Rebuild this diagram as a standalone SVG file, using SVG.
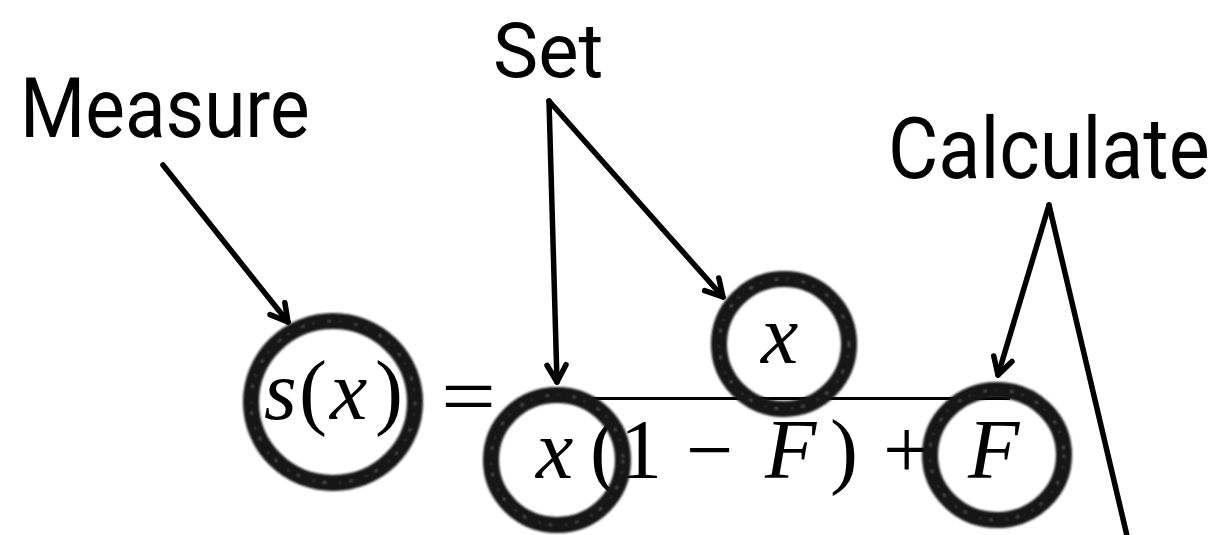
<svg xmlns="http://www.w3.org/2000/svg" width="1215" height="535" viewBox="0 0 1215 535">
<style>
.lbl{font-family:Roboto,"Open Sans",sans-serif;fill:#000}
.m{font-family:"Liberation Serif","Times New Roman",serif;font-size:84px;fill:#000}
.mi{font-style:italic}
.ring{fill:none;stroke:#141414;stroke-width:16}
.ringtex{fill:none;stroke:#9a9a9a;stroke-width:1.2;stroke-dasharray:3 9 1 14;opacity:0.7}
.arr{stroke:#000;stroke-width:5.5;stroke-linecap:round;fill:none}
</style>
<defs>
<marker id="ah" viewBox="-22 -13 26 26" markerWidth="26" markerHeight="26" refX="0" refY="0" orient="auto" markerUnits="userSpaceOnUse">
<path d="M-17,-9.5 L0,0 L-17,9.5" fill="none" stroke="#000" stroke-width="5.5" stroke-linecap="round" stroke-linejoin="round"/>
</marker>
<filter id="soft" x="-20%" y="-20%" width="140%" height="140%">
<feGaussianBlur stdDeviation="0.8"/>
</filter>
</defs>

<g id="label-measure"><text class="lbl" transform="translate(20,137) scale(0.89,1)" font-size="84">Measure</text></g>
<g id="label-set"><text class="lbl" transform="translate(493,77) scale(1,1)" font-size="76">Set</text></g>
<g id="label-calculate"><text class="lbl" transform="translate(888,178) scale(0.9,1)" font-size="86">Calculate</text></g>

<g id="formula">
<text class="m mi" x="264" y="419">s</text>
<text class="m" x="299" y="419">(</text>
<text class="m mi" x="330" y="419">x</text>
<text class="m" x="375" y="419">)</text>
<text class="m" x="441" y="425" textLength="55" lengthAdjust="spacingAndGlyphs">=</text>
<line x1="528" y1="398.5" x2="1010" y2="398.5" stroke="#000" stroke-width="3"/>
<text class="m mi" x="761" y="363">x</text>
<text class="m mi" x="536" y="478">x</text>
<text class="m" x="590" y="478">(</text>
<text class="m" x="620" y="478">1</text>
<text class="m" x="686" y="478">−</text>
<text class="m mi" x="765" y="478">F</text>
<text class="m" x="830" y="478">)</text>
<text class="m" x="883" y="478">+</text>
<text class="m mi" x="968" y="478">F</text>
</g>

<g id="circle-sx" filter="url(#soft)">
<ellipse class="ring" cx="333" cy="402" rx="82" ry="81"/>
<ellipse class="ringtex" cx="333" cy="402" rx="82" ry="81"/>
</g>
<g id="circle-x-den" filter="url(#soft)">
<ellipse class="ring" cx="557" cy="460" rx="66" ry="65"/>
<ellipse class="ringtex" cx="557" cy="460" rx="66" ry="65"/>
</g>
<g id="circle-x-num" filter="url(#soft)">
<ellipse class="ring" cx="784" cy="344" rx="65" ry="65"/>
<ellipse class="ringtex" cx="784" cy="344" rx="65" ry="65"/>
</g>
<g id="circle-F" filter="url(#soft)">
<ellipse class="ring" cx="997" cy="455" rx="67" ry="65"/>
<ellipse class="ringtex" cx="997" cy="455" rx="67" ry="65"/>
</g>

<g id="connectors">
<line class="arr" x1="163" y1="165" x2="288" y2="322" marker-end="url(#ah)"/>
<line class="arr" x1="549" y1="101" x2="557" y2="382" marker-end="url(#ah)"/>
<line class="arr" x1="549" y1="101" x2="723" y2="297" marker-end="url(#ah)"/>
<line class="arr" x1="1049" y1="205" x2="998" y2="375" marker-end="url(#ah)"/>
<line class="arr" x1="1049" y1="205" x2="1128" y2="540"/>
</g>
</svg>
